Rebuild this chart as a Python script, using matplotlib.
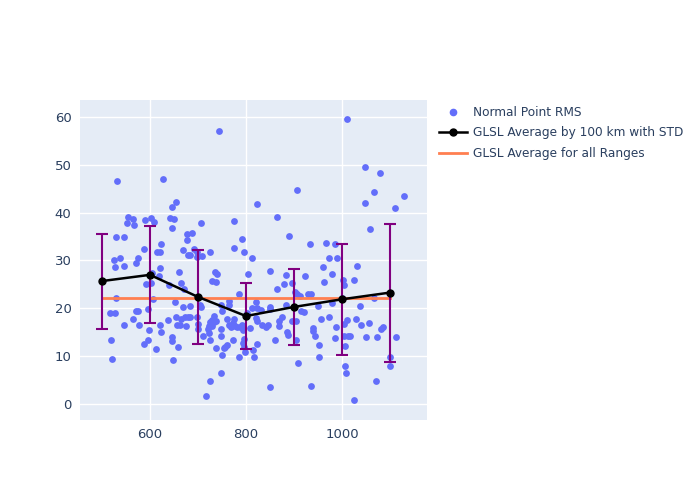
import numpy as np
import matplotlib
matplotlib.use("Agg")
import matplotlib.pyplot as plt
from matplotlib.lines import Line2D

# Normal point RMS scatter (range in km, rms)
pts_x = [532, 554, 564, 553, 566, 530, 546, 526, 537, 527, 545, 529, 516, 527, 547, 518, 521,
         589, 602, 608, 628, 588, 576, 572, 624, 620, 615, 622, 619, 604, 591, 603, 607, 639,
         595, 572, 576, 564, 577, 599, 597, 588, 620, 624, 637, 612,
         646, 654, 642, 651, 646, 678, 687, 678, 668, 679, 684, 692, 698, 698, 707, 708, 661,
         665, 671, 652, 669, 683, 654, 664, 674, 679, 684, 657, 662, 676, 646, 647, 659, 648,
         698, 701, 701, 705, 706, 711, 724, 726, 726, 717, 729, 738, 726, 736, 740, 743, 749,
         764, 765, 750, 734, 730, 725, 723, 721, 729, 733, 737, 749, 748, 738, 751, 754, 757,
         761, 772, 748, 760, 765, 769, 774, 775, 777, 782, 788, 791,
         776, 775, 786, 791, 796, 812, 804, 824, 794, 796, 793, 797, 786, 795, 802, 813, 820,
         824, 831, 821, 808, 822, 815, 817, 824, 833, 841, 846, 850, 850, 851, 860, 851,
         864, 864, 869, 868, 875, 879, 884, 884, 885, 887, 890, 896, 896, 902, 904, 906, 904,
         908, 907, 912, 915, 920, 922, 930, 933, 936, 939, 936, 939, 944, 950, 952, 953, 957,
         960, 962, 966, 972, 972, 979, 979, 987, 986, 990, 986, 1001, 1002, 1004, 1005, 1006,
         1006, 1008, 1010, 1005, 1012, 1016, 1024, 1026, 1030, 1032, 1037, 1039, 1049, 1048,
         1048, 1056, 1059, 1066, 1067, 1071, 1073, 1080, 1082, 1086, 1099, 1099, 1110, 1113,
         1130, 1010]
pts_y = [46.5, 39.1, 38.6, 37.8, 37.4, 34.9, 34.8, 30.2, 30.6, 28.6, 28.9, 22.1, 19.0, 19.0, 16.5, 13.4, 9.5,
         38.4, 38.8, 38.1, 47.1, 32.3, 30.6, 29.5, 33.5, 31.7, 31.7, 28.4, 26.8, 27.4, 25.0, 25.4, 22.0, 24.8,
         19.9, 19.5, 19.5, 17.8, 16.6, 15.5, 13.5, 12.5, 16.5, 15.1, 17.6, 11.5,
         41.2, 42.2, 38.8, 38.6, 36.7, 35.6, 35.7, 34.2, 32.1, 31.2, 31.2, 32.4, 31.8, 30.7, 37.9, 31.0, 27.6,
         25.4, 24.1, 21.3, 20.3, 20.4, 18.2, 17.8, 18.1, 18.2, 18.3, 16.5, 16.5, 16.4, 14.0, 13.2, 12.0, 9.3,
         18.1, 16.7, 15.6, 20.8, 20.2, 14.2, 14.8, 13.4, 4.9, 1.7, 25.7, 25.5, 31.7, 27.5, 27.2, 57.0, 20.8,
         21.5, 20.8, 19.5, 18.5, 17.6, 17.1, 16.4, 15.8, 16.3, 17.1, 17.4, 15.6, 14.3, 11.7, 10.3, 11.7, 12.0,
         12.3, 13.3, 6.6, 17.8, 16.6, 16.2, 16.9, 17.7, 16.4, 16.1, 16.2, 16.6,
         32.7, 38.3, 22.9, 34.5, 31.7, 30.6, 27.2, 41.8, 15.4, 13.7, 12.7, 10.9, 9.8, 12.0, 19.1, 20.0, 21.3,
         20.0, 19.7, 17.9, 16.0, 17.3, 11.4, 9.8, 12.6, 16.5, 16.1, 16.5, 27.7, 20.2, 19.9, 13.3, 3.6,
         24.1, 39.0, 17.3, 16.3, 18.3, 25.0, 27.0, 20.8, 15.1, 14.4, 35.1, 25.3, 17.4, 23.4, 17.3, 22.9, 13.4,
         8.5, 44.8, 22.5, 19.5, 19.2, 26.8, 23.0, 33.5, 23.0, 16.0, 3.8, 15.3, 14.2, 20.4, 12.4, 9.9, 17.7,
         28.7, 25.6, 33.7, 30.5, 18.3, 27.1, 21.1, 16.2, 33.5, 30.5, 13.9, 22.1, 25.9, 24.9, 16.7, 12.1,
         8.0, 6.5, 17.6, 14.2, 14.2, 14.2, 25.9, 0.8, 17.8, 28.9, 20.6, 16.5, 14.1, 42.0,
         49.5, 16.9, 36.5, 44.3, 22.1, 4.8, 14.1, 48.3, 15.6, 16.2, 9.9, 7.9, 40.9, 14.1,
         43.4, 59.5]

# averages per 100 km bin
bin_x = [500, 600, 700, 800, 900, 1000, 1100]
bin_mean = [25.7, 27.0, 22.4, 18.4, 20.3, 21.9, 23.3]
bin_std = [9.9, 10.1, 9.8, 6.9, 8.0, 11.6, 14.4]
overall_mean = 22.1

fig = plt.figure(figsize=(7, 5), dpi=100)
ax = fig.add_axes([0.114, 0.16, 0.496, 0.64])
ax.set_facecolor("#E5ECF6")
for s in ax.spines.values():
    s.set_visible(False)
ax.grid(True, color="white", linewidth=1)
ax.set_axisbelow(True)

ax.scatter(pts_x, pts_y, s=24, color="#636EFA", linewidths=0, zorder=2)
ax.errorbar(bin_x, bin_mean, yerr=bin_std, color="black", lw=1.8, marker="o", ms=5,
            ecolor="purple", elinewidth=1.5, capsize=4, capthick=1.5, zorder=4)
ax.plot([bin_x[0], bin_x[-1]], [overall_mean, overall_mean], color="#FF7F50", lw=2, zorder=3)

ax.set_xlim(454, 1177)
ax.set_ylim(-3.3, 63.5)
ax.set_xticks([600, 800, 1000])
ax.set_yticks([0, 10, 20, 30, 40, 50, 60])
ax.tick_params(length=0, labelsize=9.5, colors="#2a3f5f", pad=6)

# legend proxies
handles = [
    Line2D([], [], ls="none", marker="o", ms=4.5, color="#636EFA", label="Normal Point RMS"),
    Line2D([], [], color="black", lw=1.8, marker="o", ms=5, label="GLSL Average by 100 km with STD"),
    Line2D([], [], color="#FF7F50", lw=2, label="GLSL Average for all Ranges"),
]
leg = fig.legend(handles=handles, loc="upper left", bbox_to_anchor=(0.612, 0.81),
                 frameon=False, fontsize=8.7, handlelength=2.3, handletextpad=0.5,
                 labelspacing=0.62)
for t in leg.get_texts():
    t.set_color("#2a3f5f")

fig.savefig("out.png", dpi=100)
